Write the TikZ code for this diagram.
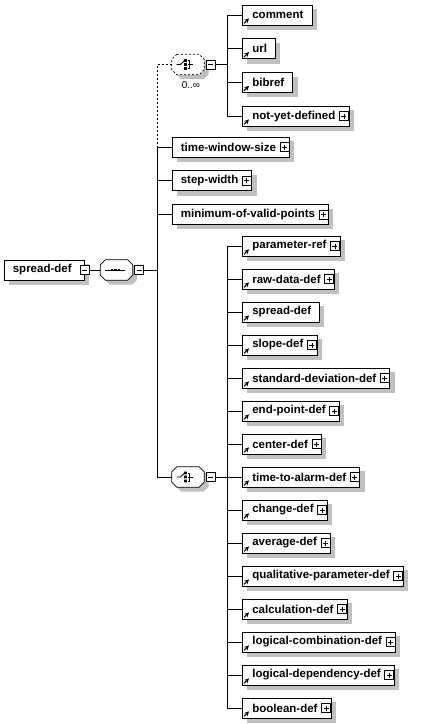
\documentclass[tikz,border=0pt]{standalone}
\usepackage{fontspec}
\setmainfont{Liberation Sans}
\usetikzlibrary{positioning, calc, backgrounds}
\definecolor{shadowgray}{HTML}{C0C0C0}
\newcommand{\elemfont}{\fontsize{11.5}{13}\selectfont\bfseries}
\newcommand{\octagon}[1]{([xshift=5pt]#1.north west) -- ([xshift=-5pt]#1.north east) -- ([yshift=-5pt]#1.north east) -- ([yshift=5pt]#1.south east) -- ([xshift=-5pt]#1.south east) -- ([xshift=5pt]#1.south west) -- ([yshift=5pt]#1.south west) -- ([yshift=-5pt]#1.north west) -- cycle}

\begin{document}
\begin{tikzpicture}[x=1pt, y=-1pt,
  elem/.style={rectangle, draw, fill=white, font=\elemfont, minimum height=20pt, inner xsep=8.5pt, inner ysep=0pt, anchor=west, line width=0.7pt},
  ref/.style={execute at begin node=\hspace{1.5pt},
    append after command={([shift={(2pt,2pt)}]\tikzlastnode.south west) edge[-stealth, line width=1.1pt] ([shift={(7pt,7pt)}]\tikzlastnode.south west)}},
  expand/.style={execute at end node=\hspace{5pt},
    path picture={
      \draw[line width=0.7pt, fill=white] ([shift={(-9.5pt,-4.5pt)}]path picture bounding box.east) rectangle ([shift={(-0.5pt,4.5pt)}]path picture bounding box.east);
      \draw[line width=0.7pt] ([xshift=-7.5pt]path picture bounding box.east) -- ([xshift=-2.5pt]path picture bounding box.east)
        ([shift={(-5pt,-2.5pt)}]path picture bounding box.east) -- ([shift={(-5pt,2.5pt)}]path picture bounding box.east);
    }},
  leaf/.style={},
  pm/.style={rectangle, draw, fill=white, minimum size=9pt, inner sep=0pt, line width=0.7pt,
    path picture={\draw[line width=0.7pt] ([xshift=2pt]path picture bounding box.west) -- ([xshift=-2pt]path picture bounding box.east);}},
  comp/.style={rectangle, minimum width=32pt, minimum height=20pt, inner sep=0pt},
  optline/.style={dash pattern=on 2pt off 2pt},
  choicemark/.pic={
    \draw[line width=0.8pt] (-11.5,0) -- (-7.5,0) -- (-3.5,-4);
    \fill (-4,-5.4) rectangle (-1.2,-2.6) (-4,-1.4) rectangle (-1.2,1.4) (-4,2.6) rectangle (-1.2,5.4);
    \draw[line width=0.8pt] (-0.2,-4) -- (1.3,-4) -- (1.3,4) -- (-0.2,4) (-0.2,0) -- (4.5,0);},
  seqmark/.pic={
    \draw[line width=0.8pt] (-11.5,0) -- (8.5,0);
    \foreach \d in {-6,-2.5,1} \fill (\d,-1.3) rectangle ++(2.6,2.6);},
  wire/.style={line width=0.7pt}
]
\useasboundingbox (0,0) rectangle (423,724);

% root element and its sequence
\node[elem, execute at end node=\hspace{4pt}] (root) at (4,270) {spread-def};
\node[pm] (rootpm) at (root.east) {};
\node[comp, right=11pt of rootpm] (seq) {};
\node[pm, right=1.5pt of seq] (seqpm) {};
\coordinate (trunk) at (157,270);
\draw[wire] (rootpm) -- (seq);
\draw[wire] (seqpm) -- (trunk);

% optional choice (0..oo)
\node[comp] (optc) at (188,64.5) {};
\node[pm, right=1.5pt of optc] (optpm) {};
\node[font=\fontsize{10}{12}\selectfont, inner sep=0pt, below=7pt of optc, xshift=3pt] (optcard) {0..∞};

\node[elem, ref] (cmt) at (242,15) {comment};
\node[elem, ref, below=13pt of cmt.south west, anchor=north west] (url) {url};
\node[elem, ref, below=13pt of url.south west, anchor=north west] (bib) {bibref};
\node[elem, ref, expand, below=13pt of bib.south west, anchor=north west] (nyd) {not-yet-defined};
\coordinate[left=15pt of cmt.west] (topbus);
\draw[wire] (optpm) -- (optpm -| topbus);
\draw[wire] (cmt.west -| topbus) -- (nyd.west -| topbus);
\foreach \n in {cmt, url, bib, nyd}
  \draw[wire] (\n.west -| topbus) -- (\n.west);

% plain children of the sequence
\node[elem, expand] (tws) at (172,147) {time-window-size};
\node[elem, expand, below=13pt of tws.south west, anchor=north west] (sw) {step-width};
\node[elem, expand, below=13pt of sw.south west, anchor=north west] (mvp) {minimum-of-valid-points};

% required choice
\node[comp] (reqc) at (188,477) {};
\node[pm, right=1.5pt of reqc] (reqpm) {};
\foreach \t/\k [count=\i from 0] in {parameter-ref/expand, raw-data-def/expand, spread-def/leaf, slope-def/expand,
    standard-deviation-def/expand, end-point-def/expand, center-def/expand, time-to-alarm-def/expand, change-def/expand,
    average-def/expand, qualitative-parameter-def/expand, calculation-def/expand, logical-combination-def/expand,
    logical-dependency-def/expand, boolean-def/expand}
  \node[elem, ref, \k] (kid\i) at (242,246+33*\i) {\t};
\coordinate[left=15pt of kid0.west] (lowbus);
\draw[wire] (reqpm) -- (reqpm -| lowbus);
\draw[wire] (kid0.west -| lowbus) -- (kid14.west -| lowbus);
\foreach \i in {0,...,14}
  \draw[wire] (kid\i.west -| lowbus) -- (kid\i.west);

% trunk
\draw[wire, optline] (optc) -- (optc -| trunk) -- (tws.west -| trunk);
\draw[wire] (tws.west -| trunk) -- (reqc.west -| trunk);
\foreach \n in {tws, sw, mvp, reqc}
  \draw[wire] (\n.west -| trunk) -- (\n.west);

% compositor outlines and marks
\foreach \n/\s in {seq/solid, optc/optline, reqc/solid}
  \draw[wire, fill=white, \s] \octagon{\n};
\pic at (seq) {seqmark};
\pic at (optc) {choicemark};
\pic at (reqc) {choicemark};

% shadows
\begin{scope}[on background layer]
  \foreach \n in {root, cmt, url, bib, nyd, tws, sw, mvp, kid0, kid1, kid2, kid3, kid4, kid5, kid6, kid7, kid8, kid9, kid10, kid11, kid12, kid13, kid14}
    \fill[shadowgray] ([shift={(4.5pt,-4.5pt)}]\n.south west) rectangle ([shift={(4.5pt,-4.5pt)}]\n.north east);
  \foreach \n in {seq, optc, reqc}
    \fill[shadowgray, transform canvas={shift={(4.5pt,-4.5pt)}}] \octagon{\n};
\end{scope}
\end{tikzpicture}
\end{document}
